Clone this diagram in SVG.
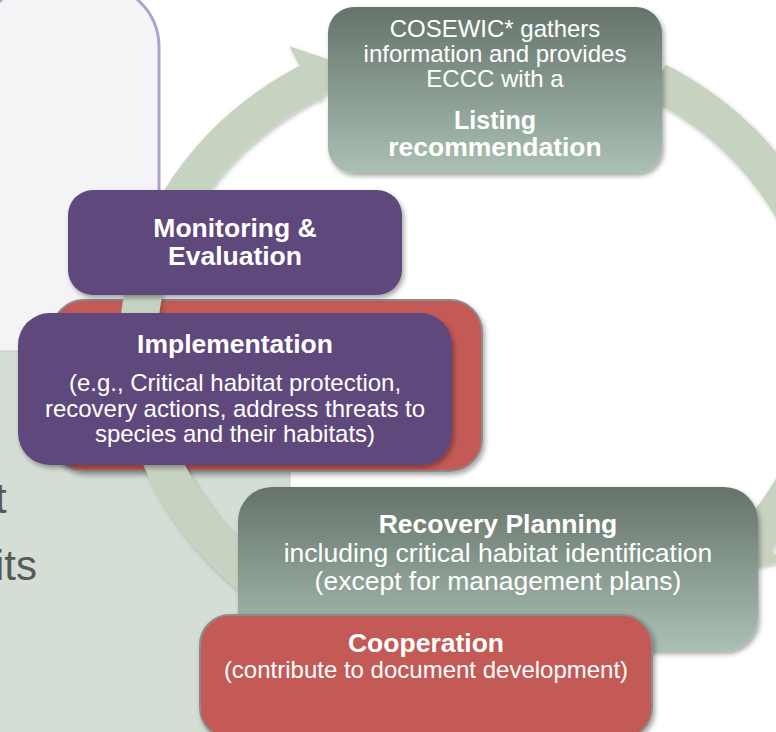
<svg xmlns="http://www.w3.org/2000/svg" width="776" height="732" viewBox="0 0 776 732">
<defs>
<style>
.t{font-family:"Liberation Sans",Arial,sans-serif;fill:#ffffff;text-anchor:middle}
.r{font-size:24px}
.rb{font-size:26.5px}
.b{font-size:26.5px;font-weight:bold}
.bs{font-size:25px;font-weight:bold}
.purple{fill:#5f4a7c}
.red{fill:#c45a56;stroke:#8c8c8c;stroke-width:2}
.grad{fill:url(#gg)}
.band{fill:none;stroke:#c7d3c1;stroke-width:38}
.head{fill:#c7d3c1}
.side{font-family:"Liberation Sans",Arial,sans-serif;font-size:42px;fill:#595959}
</style>
<linearGradient id="gg" x1="0" y1="0" x2="0" y2="1">
<stop offset="0" stop-color="#65736a"/>
<stop offset="1" stop-color="#abc0b4"/>
</linearGradient>
<filter id="sh" x="-10%" y="-10%" width="125%" height="135%">
<feDropShadow dx="2" dy="3" stdDeviation="2.5" flood-color="#000" flood-opacity="0.35"/>
</filter>
<filter id="shr" x="-10%" y="-10%" width="125%" height="125%">
<feDropShadow dx="1.5" dy="2" stdDeviation="2" flood-color="#000" flood-opacity="0.25"/>
</filter>
</defs>

<g id="background">
<rect x="-20" y="-16" width="179" height="390" rx="63" fill="#f4f4f7" stroke="#b0a0ca" stroke-width="3"/>
<rect x="-5" y="351" width="295" height="395" rx="4" fill="#d4ded5" stroke="#c3cfc4" stroke-width="1"/>
<text class="side" x="-5" y="513">t</text>
<text class="side" x="-5" y="580">its</text>
</g>

<g id="implementation-back">
<rect class="red" x="52" y="300" width="430" height="171" rx="32" filter="url(#sh)"/>
</g>

<g id="connectors" filter="url(#shr)">
<path class="band" d="M337.8,627.1 A346,308 0 0 1 308.4,82.6"/>
<polygon class="head" points="289.4,46.3 346.1,65.5 318.6,102.1"/>
<path class="band" d="M657,81.3 A346,308 0 0 1 756.6,537.6"/>
<polygon class="head" points="783.7,561.4 720,573.3 729.5,513.8"/>
</g>

<g id="node-cosewic">
<rect class="grad" x="328" y="7" width="334" height="166" rx="26" filter="url(#sh)"/>
<text class="t r" x="495" y="37">COSEWIC* gathers</text>
<text class="t r" x="495" y="62">information and provides</text>
<text class="t r" x="495" y="87">ECCC with a</text>
<text class="t bs" x="495" y="129">Listing</text>
<text class="t b" x="495" y="156">recommendation</text>
</g>

<g id="node-monitoring">
<rect class="purple" x="68" y="190" width="334" height="105" rx="25" filter="url(#sh)"/>
<text class="t b" x="235" y="237">Monitoring &amp;</text>
<text class="t b" x="235" y="265">Evaluation</text>
</g>

<g id="node-implementation">
<rect class="purple" x="18" y="313" width="434" height="152" rx="32" filter="url(#sh)"/>
<text class="t b" x="235" y="353">Implementation</text>
<text class="t r" x="235" y="391">(e.g., Critical habitat protection,</text>
<text class="t r" x="235" y="417">recovery actions, address threats to</text>
<text class="t r" x="235" y="442">species and their habitats)</text>
</g>

<g id="node-recovery">
<rect class="grad" x="238" y="487" width="520" height="164" rx="34" filter="url(#sh)"/>
<text class="t b" x="498" y="533">Recovery Planning</text>
<text class="t rb" x="498" y="562">including critical habitat identification</text>
<text class="t rb" x="498" y="590">(except for management plans)</text>
</g>

<g id="node-cooperation">
<rect class="red" x="200" y="615" width="452" height="123" rx="30" filter="url(#sh)"/>
<text class="t b" x="426" y="652">Cooperation</text>
<text class="t r" x="426" y="678">(contribute to document development)</text>
</g>
</svg>
